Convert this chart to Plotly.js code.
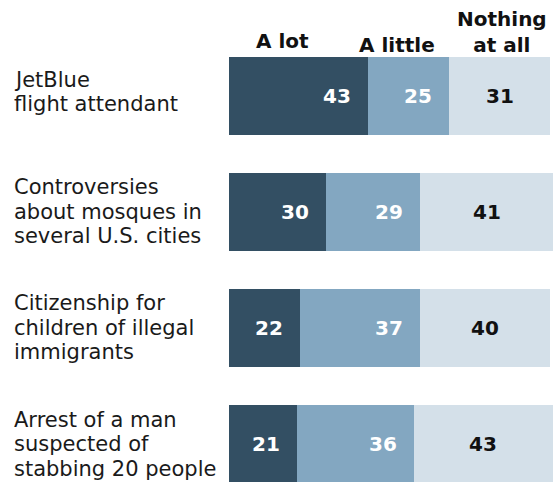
<!DOCTYPE html>
<html>
<head>
<meta charset="utf-8">
<script src="https://cdn.plot.ly/plotly-3.0.1.min.js"></script>
<style>
  html, body { margin: 0; padding: 0; background: #fff; }
  #chart { width: 554px; height: 482px; }
</style>
</head>
<body>
<div id="chart"></div>
<script>
// News stories and how much people heard about each
const topics = [
  "JetBlue<br>flight attendant",
  "Controversies<br>about mosques in<br>several U.S. cities",
  "Citizenship for<br>children of illegal<br>immigrants",
  "Arrest of a man<br>suspected of<br>stabbing 20 people"
];
const seriesNames = ["A lot", "A little", "Nothing<br>at all"];
const aLot = [43, 30, 22, 21];
const aLittle = [25, 29, 37, 36];
const nothingAtAll = [31, 41, 40, 43];

const colors = ["#334f63", "#83a7c1", "#d4e0e9"];
const labelColors = ["#ffffff", "#ffffff", "#111111"];
const series = [aLot, aLittle, nothingAtAll];
const yIdx = topics.map((_, i) => i);

const traces = series.map((vals, s) => ({
  type: "bar",
  orientation: "h",
  name: seriesNames[s],
  x: vals,
  y: yIdx,
  marker: { color: colors[s], line: { width: 0 } },
  hoverinfo: "skip"
}));

const annotations = [];
const valueFont = (c) => ({ family: "DejaVu Sans", size: 20, color: c, weight: "bold" });

// value labels: first two segments right-aligned, last one centred
yIdx.forEach(i => {
  let start = 0;
  series.forEach((vals, s) => {
    const v = vals[i];
    if (s < 2) {
      annotations.push({
        x: start + v, y: i, xref: "x", yref: "y",
        text: String(v), showarrow: false,
        xanchor: "right", yanchor: "middle", xshift: -15,
        font: valueFont(labelColors[s])
      });
    } else {
      annotations.push({
        x: start + v / 2, y: i, xref: "x", yref: "y",
        text: String(v), showarrow: false,
        xanchor: "center", yanchor: "middle",
        font: valueFont(labelColors[s])
      });
    }
    start += v;
  });
});

// topic labels on the left, one annotation per line for tight leading
const lineStep = 24.5;
const labelNudge = [4, 0, 0, 0];
topics.forEach((t, i) => {
  const lines = t.split("<br>");
  lines.forEach((ln, k) => {
    annotations.push({
      x: 0, y: i, xref: "paper", yref: "y",
      text: ln, showarrow: false,
      xanchor: "left", yanchor: "middle", align: "left",
      xshift: -217,
      yshift: ((lines.length - 1) / 2 - k) * lineStep + labelNudge[i],
      font: { family: "DejaVu Sans", size: 21, color: "#1a1a1a" }
    });
  });
});

// column headers
const headerX = [16.4, 51.9, 84.4];
const headerShift = [2, -2, -2];
seriesNames.forEach((n, s) => {
  annotations.push({
    x: headerX[s], y: 1, xref: "x", yref: "paper",
    text: n, showarrow: false,
    xanchor: "center", yanchor: "bottom", align: "center",
    yshift: headerShift[s],
    font: { family: "DejaVu Sans", size: 20, color: "#111111", weight: "bold" }
  });
});

const layout = {
  width: 554, height: 482,
  margin: { l: 229, r: 1, t: 57, b: 0, pad: 0 },
  paper_bgcolor: "#ffffff",
  plot_bgcolor: "#ffffff",
  barmode: "stack",
  bargap: 0.33,
  showlegend: false,
  xaxis: { range: [0, 100], visible: false, fixedrange: true },
  yaxis: { range: [3.327, -0.335], visible: false, fixedrange: true },
  annotations: annotations
};

Plotly.newPlot("chart", traces, layout, { displayModeBar: false, staticPlot: true });
</script>
</body>
</html>
